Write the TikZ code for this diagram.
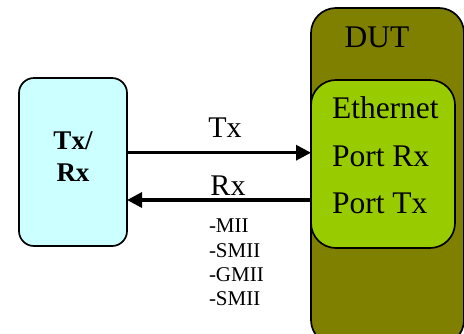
\documentclass[tikz,border=0pt]{standalone}
\usepackage{fontspec}
\setmainfont{Liberation Serif}
\usetikzlibrary{arrows.meta}
\definecolor{cyanbox}{HTML}{CCFFFF}
\definecolor{olivebox}{HTML}{808000}
\definecolor{limebox}{HTML}{99CC00}
\tikzset{
  box/.style={draw=black, line width=1.7bp, inner sep=0pt, outer sep=0pt},
  lbl/.style={inner sep=0pt, outer sep=0pt, anchor=base, font=\fontsize{30bp}{36bp}\selectfont},
  portlbl/.style={inner sep=0pt, outer sep=0pt, anchor=base west, font=\fontsize{31.5bp}{36bp}\selectfont},
  boldlbl/.style={inner sep=0pt, outer sep=0pt, anchor=base, font=\fontsize{27bp}{32bp}\selectfont\bfseries},
  small/.style={inner sep=0pt, outer sep=0pt, anchor=base west, font=\fontsize{21bp}{24bp}\selectfont},
  sig/.style={line width=3.2bp, -{Triangle[length=15bp,width=15bp]}}
}
\begin{document}
\begin{tikzpicture}[x=1bp,y=-1bp]
\clip (0,0) rectangle (464,333);
% DUT outer box
\node[box, fill=olivebox, rounded corners=25bp, minimum width=153bp, minimum height=337bp] (dut) at (387.5,176.5) {};
\node[lbl, font=\fontsize{31.5bp}{36bp}\selectfont] (duttxt) at (377,47) {DUT};
% inner port box
\node[box, fill=limebox, rounded corners=25bp, minimum width=144bp, minimum height=168bp] (port) at (383,164) {};
\node[portlbl] (eth) at (332,118) {Ethernet};
\node[portlbl] (prx) at (332,166) {Port Rx};
\node[portlbl] (ptx) at (332,213) {Port Tx};
% left box
\node[box, fill=cyanbox, rounded corners=15bp, minimum width=108bp, minimum height=168bp] (txrx) at (73,162) {};
\node[boldlbl] (t1) at (73,149) {Tx/};
\node[boldlbl] (t2) at (73,181) {Rx};
% arrows
\coordinate (a1) at (127,152.7);
\coordinate (a2) at (311,152.7);
\coordinate (b1) at (311,200);
\coordinate (b2) at (127,200);
\draw[sig] (txrx.east |- a1) -- (port.west |- a2);
\draw[sig] (port.west |- b1) -- (txrx.east |- b2);
\node[lbl] (txl) at (225,137) {Tx};
\node[lbl] (rxl) at (228,195) {Rx};
\node[small] (m1) at (209,232) {-MII};
\node[small] (m2) at (209,257) {-SMII};
\node[small] (m3) at (209,281) {-GMII};
\node[small] (m4) at (209,305) {-SMII};
\end{tikzpicture}
\end{document}
